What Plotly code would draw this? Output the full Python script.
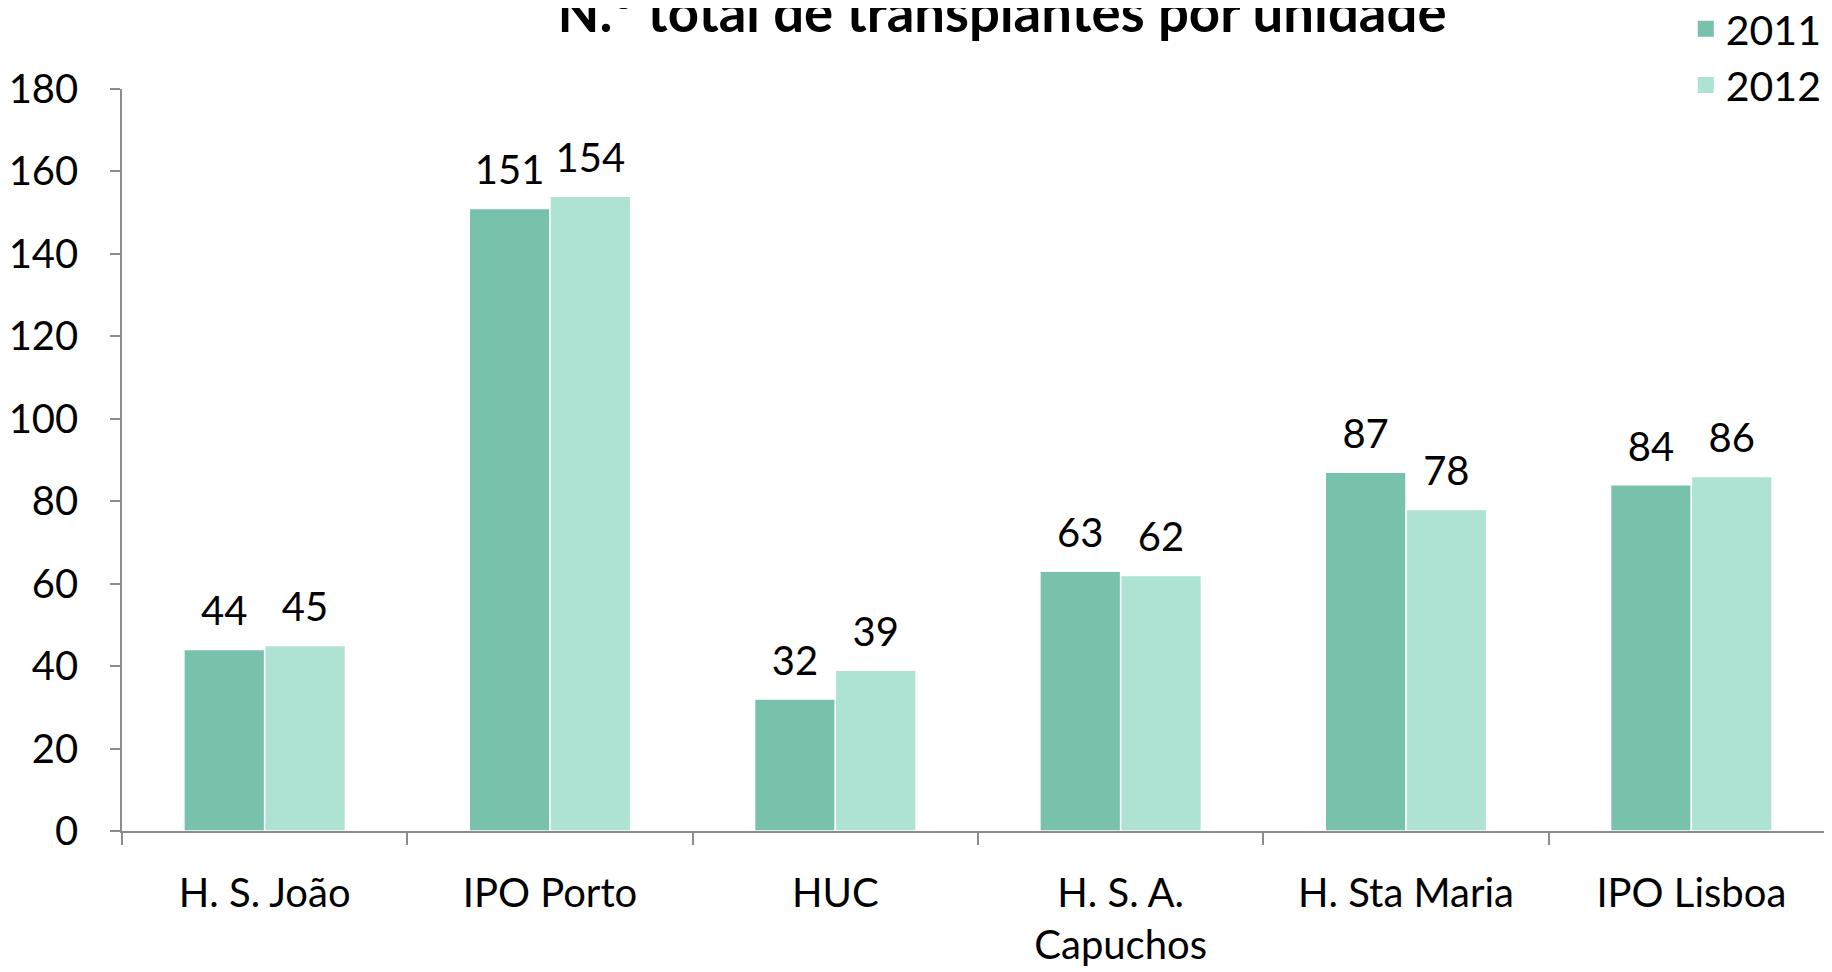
import plotly.graph_objects as go

categories = ["H. S. João", "IPO Porto", "HUC", "H. S. A.<br>Capuchos", "H. Sta Maria", "IPO Lisboa"]
values_2011 = [44, 151, 32, 63, 87, 84]
values_2012 = [45, 154, 39, 62, 78, 86]
series_names = ["2011", "2012"]
colors = ["#78C1AD", "#AEE3D4"]
y_ticks = [0, 20, 40, 60, 80, 100, 120, 140, 160, 180]
title_text = "N.º total de transplantes por unidade"

FONT = "Lato"

fig = go.Figure()
for name, vals, col in zip(series_names, [values_2011, values_2012], colors):
    fig.add_trace(go.Bar(
        x=categories, y=vals, name=name, offsetgroup=name,
        marker=dict(color=col, line=dict(color="white", width=1.5)),
        showlegend=False,
    ))
    # value labels, aligned with their bar through offsetgroup
    fig.add_trace(go.Scatter(
        x=categories, y=vals, name=name, offsetgroup=name,
        mode="markers+text", text=[str(v) for v in vals],
        textposition="top center",
        textfont=dict(family=FONT, size=40, color="black"),
        marker=dict(size=21, color="rgba(0,0,0,0)"),
        cliponaxis=False, hoverinfo="skip", showlegend=False,
    ))
    fig.add_trace(go.Scatter(
        x=[None], y=[None], mode="markers", name=name,
        marker=dict(symbol="square", size=24, color=col),
        showlegend=True,
    ))

fig.update_layout(
    width=1824, height=964,
    paper_bgcolor="white", plot_bgcolor="white",
    barmode="group", bargap=0.434, bargroupgap=0,
    scattermode="group", scattergap=0.434,
    margin=dict(l=113.5, r=0, t=81, b=141, autoexpand=False),
    font=dict(family=FONT, size=40, color="black"),
    title=dict(text="<b>" + title_text + "</b>", x=0.545, xanchor="center",
               xref="container", yref="container", y=0.9944, yanchor="middle",
               font=dict(family=FONT, size=54.5, color="black")),
    legend=dict(x=0.9145, xanchor="left", y=1.126, yanchor="top",
                font=dict(family=FONT, size=41, color="black"),
                bgcolor="rgba(0,0,0,0)", itemsizing="trace",
                tracegroupgap=0),
    showlegend=True,
)
fig.update_xaxes(
    type="category", range=[-0.5, 5.493],
    showline=True, linecolor="#8C8C8C", linewidth=1.5,
    ticks="outside", tickson="boundaries", ticklen=12, tickcolor="#8C8C8C", tickwidth=1.5,
    showgrid=False, ticklabelstandoff=26, automargin=False,
    tickfont=dict(family=FONT, size=40, color="black"),
)
fig.update_yaxes(
    range=[0, 180], tickvals=y_ticks,
    showline=True, linecolor="#8C8C8C", linewidth=1.5,
    ticks="outside", ticklen=10, tickcolor="#8C8C8C", tickwidth=1.5,
    showgrid=False, zeroline=False, ticklabelstandoff=24, automargin=False,
    tickfont=dict(family=FONT, size=40, color="black"),
)

fig.write_html("out.html")
